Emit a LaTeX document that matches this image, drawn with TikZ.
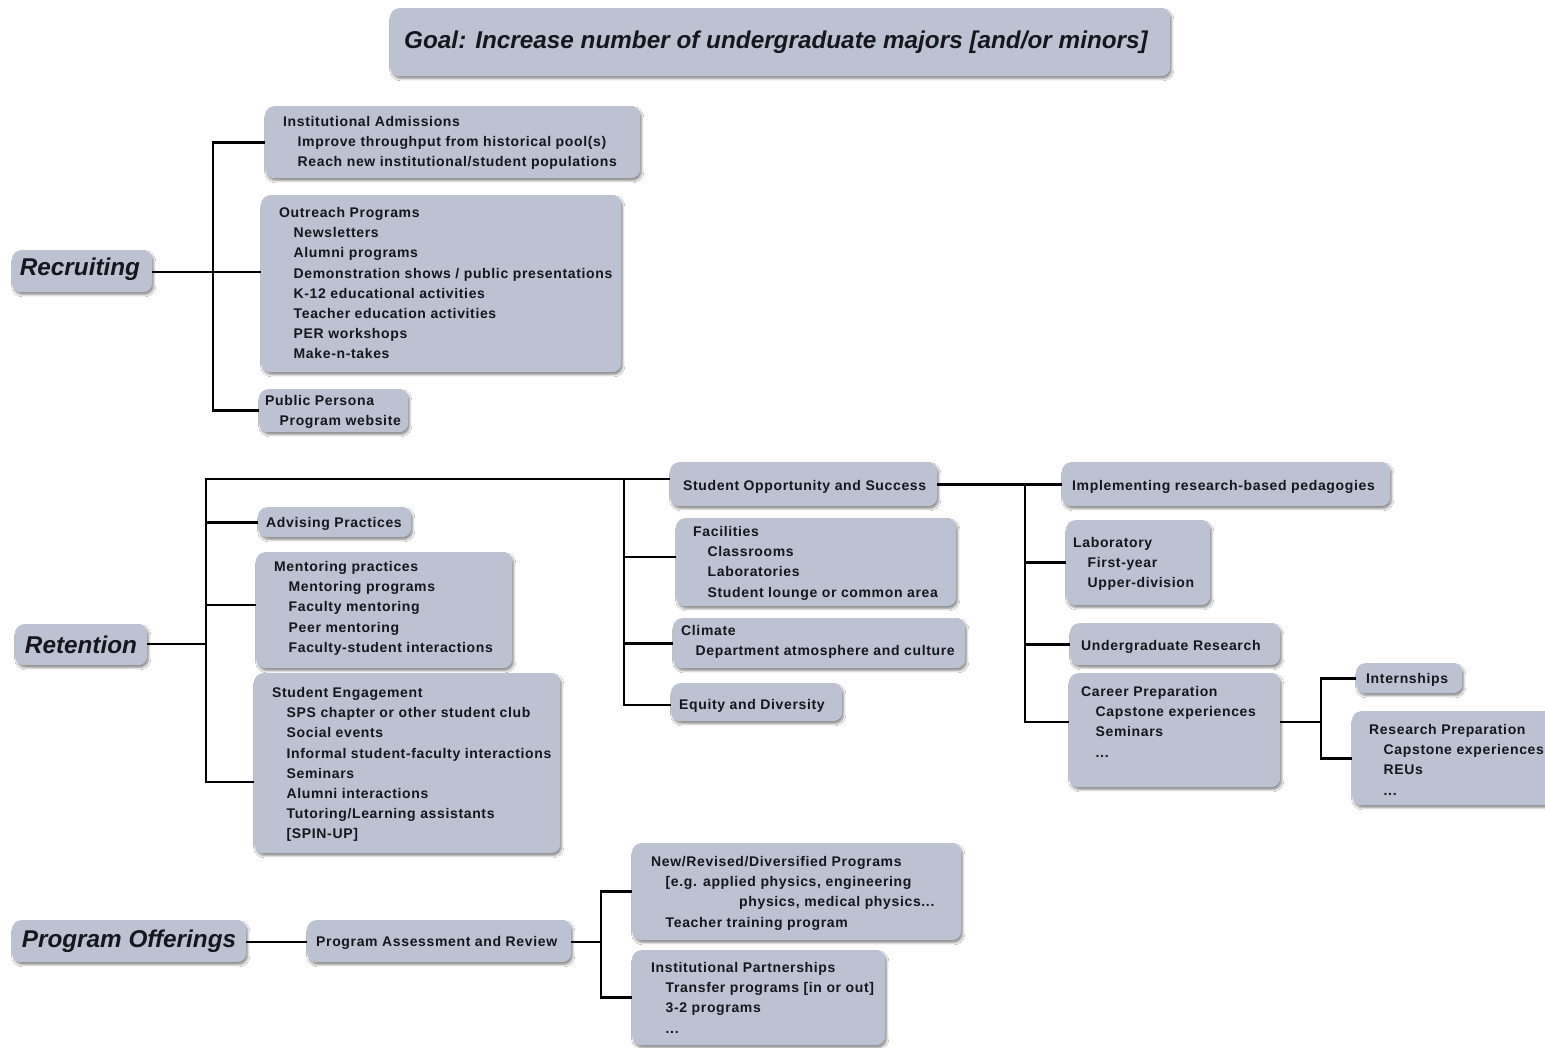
\documentclass[tikz,border=0pt]{standalone}
\usepackage{fontspec}
\setmainfont{Liberation Sans}
\newfontfamily\boxfont[LetterSpace=4.6]{Liberation Sans}
\usetikzlibrary{shadows.blur}
\definecolor{boxc}{RGB}{188,194,209}
\definecolor{txtc}{RGB}{22,22,28}
\tikzset{
  x=1pt,y=-1pt,
  bx/.style={draw=none, fill=boxc, rounded corners=9pt, inner sep=0pt, anchor=north west,
    blur shadow={shadow xshift=1.5pt, shadow yshift=-2.5pt, shadow blur steps=6, shadow opacity=45}},
  txt/.style={inner sep=0pt, anchor=north west, yshift=9.6pt, align=left, text=txtc,
    font=\boxfont\fontsize{14}{20.2}\selectfont\bfseries, execute at begin node=\strut},
  ttl/.style={inner sep=0pt, text=txtc, font=\fontsize{24.3}{26}\selectfont\bfseries\itshape},
  conn/.style={line width=2.6pt, draw=black},
}
\newcommand\mkbox[5]{\node[bx, minimum width={(#4-#2)*1pt}, minimum height={(#5-#3)*1pt}] (#1) at (#2,#3) {};}
\newcommand\ii{\hspace*{14.5pt}}
\begin{document}
\begin{tikzpicture}
\useasboundingbox (0,0) rectangle (1545,1047);
\clip (0,0) rectangle (1545,1047);
\fill[white] (0,0) rectangle (1545,1047);

% ---------- boxes ----------
\mkbox{goal}{390}{8}{1170}{76}
\mkbox{rec}{12}{250}{152}{292}
\mkbox{ia}{265}{106}{640}{178}
\mkbox{out}{261}{195}{621}{372}
\mkbox{pp}{259}{389}{408}{432}
\mkbox{ret}{15}{624}{147}{665}
\mkbox{adv}{258}{507}{411}{537}
\mkbox{men}{256}{552}{512}{668}
\mkbox{se}{254}{673}{560}{853}
\mkbox{sos}{670}{462}{937}{506}
\mkbox{fac}{676}{518}{956}{606}
\mkbox{cli}{673}{618}{965}{668}
\mkbox{eq}{671}{683}{842}{721}
\mkbox{imp}{1062}{462}{1390}{506}
\mkbox{lab}{1066}{520}{1210}{605}
\mkbox{ur}{1070}{623}{1280}{665}
\mkbox{cp}{1069}{673}{1280}{787}
\mkbox{int}{1356}{663}{1462}{693}
\mkbox{rp}{1352}{711}{1580}{805}
\mkbox{po}{12}{920}{246}{962}
\mkbox{pa}{307}{920}{571}{962}
\mkbox{nr}{632}{843}{961}{940}
\mkbox{ip}{632}{950}{885}{1045}

% ---------- titles ----------
\node[ttl] (goal-t) at (776,42) {Goal: Increase number of undergraduate majors [and/or minors]};
\node[ttl] (rec-t) at (80,269) {Recruiting};
\node[ttl] (ret-t) at (81,645) {Retention};
\node[ttl] (po-t) at (129,941) {Program Offerings};

% ---------- texts ----------
\node[txt] (ia-t) at (283,125.7) {Institutional Admissions\\\ii Improve throughput from historical pool(s)\\\ii Reach new institutional/student populations};
\node[txt] (out-t) at (279,216.7) {Outreach Programs\\\ii Newsletters\\\ii Alumni programs\\\ii Demonstration shows / public presentations\\\ii K-12 educational activities\\\ii Teacher education activities\\\ii PER workshops\\\ii Make-n-takes};
\node[txt] (pp-t) at (265,404.7) {Public Persona\\\ii Program website};
\node[txt] (adv-t) at (266,522.7) {Advising Practices};
\node[txt] (men-t) at (274,570.7) {Mentoring practices\\\ii Mentoring programs\\\ii Faculty mentoring\\\ii Peer mentoring\\\ii Faculty-student interactions};
\node[txt] (se-t) at (272,696.7) {Student Engagement\\\ii SPS chapter or other student club\\\ii Social events\\\ii Informal student-faculty interactions\\\ii Seminars\\\ii Alumni interactions\\\ii Tutoring/Learning assistants\\\ii [SPIN-UP]};
\node[txt] (sos-t) at (683,485.7) {Student Opportunity and Success};
\node[txt] (fac-t) at (693,535.7) {Facilities\\\ii Classrooms\\\ii Laboratories\\\ii Student lounge or common area};
\node[txt] (cli-t) at (681,634.7) {Climate\\\ii Department atmosphere and culture};
\node[txt] (eq-t) at (679,704.7) {Equity and Diversity};
\node[txt] (imp-t) at (1072,485.7) {Implementing research-based pedagogies};
\node[txt] (lab-t) at (1073,546.7) {Laboratory\\\ii First-year\\\ii Upper-division};
\node[txt] (ur-t) at (1081,645.7) {Undergraduate Research};
\node[txt] (cp-t) at (1081,695.7) {Career Preparation\\\ii Capstone experiences\\\ii Seminars\\\ii ...};
\node[txt] (int-t) at (1366,678.7) {Internships};
\node[txt] (rp-t) at (1369,733.7) {Research Preparation\\\ii Capstone experiences\\\ii REUs\\\ii ...};
\node[txt] (pa-t) at (316,941.7) {Program Assessment and Review};
\node[txt] (nr-t) at (651,865.7) {New/Revised/Diversified Programs\\\ii [e.g. applied physics, engineering\\\hspace*{88pt}physics, medical physics...\\\ii Teacher training program};
\node[txt] (ip-t) at (651,971.7) {Institutional Partnerships\\\ii Transfer programs [in or out]\\\ii 3-2 programs\\\ii ...};

% ---------- connectors ----------
% recruiting
\coordinate (rbus) at (213,272);
\draw[conn] (rec.east |- rbus) -- (rbus -| out.west);
\draw[conn] (ia.west) -| (rbus) |- (pp.west);
% retention
\coordinate (tbus) at (206,644);
\coordinate (sebus) at (206,782);
\coordinate (sostop) at (670,479);
\draw[conn] (ret.east |- tbus) -- (tbus);
\draw[conn] (sostop) -| (sebus) -- (sebus -| se.west);
\draw[conn] (adv.west) -- (adv.west -| tbus);
\draw[conn] (men.west |- 0,605) -- (tbus |- 0,605);
% student opportunity bus
\coordinate (obus) at (624,705);
\draw[conn] (obus |- sostop) -- (obus) -- (obus -| eq.west);
\draw[conn] (fac.west |- 0,557) -- (obus |- 0,557);
\draw[conn] (cli.west) -- (cli.west -| obus);
% right bus
\coordinate (cbus) at (1025,722);
\draw[conn] (sos.east) -- (imp.west);
\draw[conn] (cbus |- imp.west) -- (cbus) -- (cbus -| cp.west);
\draw[conn] (lab.west) -- (lab.west -| cbus);
\draw[conn] (ur.west) -- (ur.west -| cbus);
% career bus
\coordinate (kbus) at (1321,722);
\draw[conn] (cp.east |- kbus) -- (kbus);
\draw[conn] (int.west) -| (kbus) |- (rp.west);
% program offerings
\coordinate (pbus) at (601,942);
\draw[conn] (po.east |- pbus) -- (pbus -| pa.west);
\draw[conn] (pa.east |- pbus) -- (pbus);
\draw[conn] (nr.west) -| (pbus) |- (ip.west);
\end{tikzpicture}
\end{document}
